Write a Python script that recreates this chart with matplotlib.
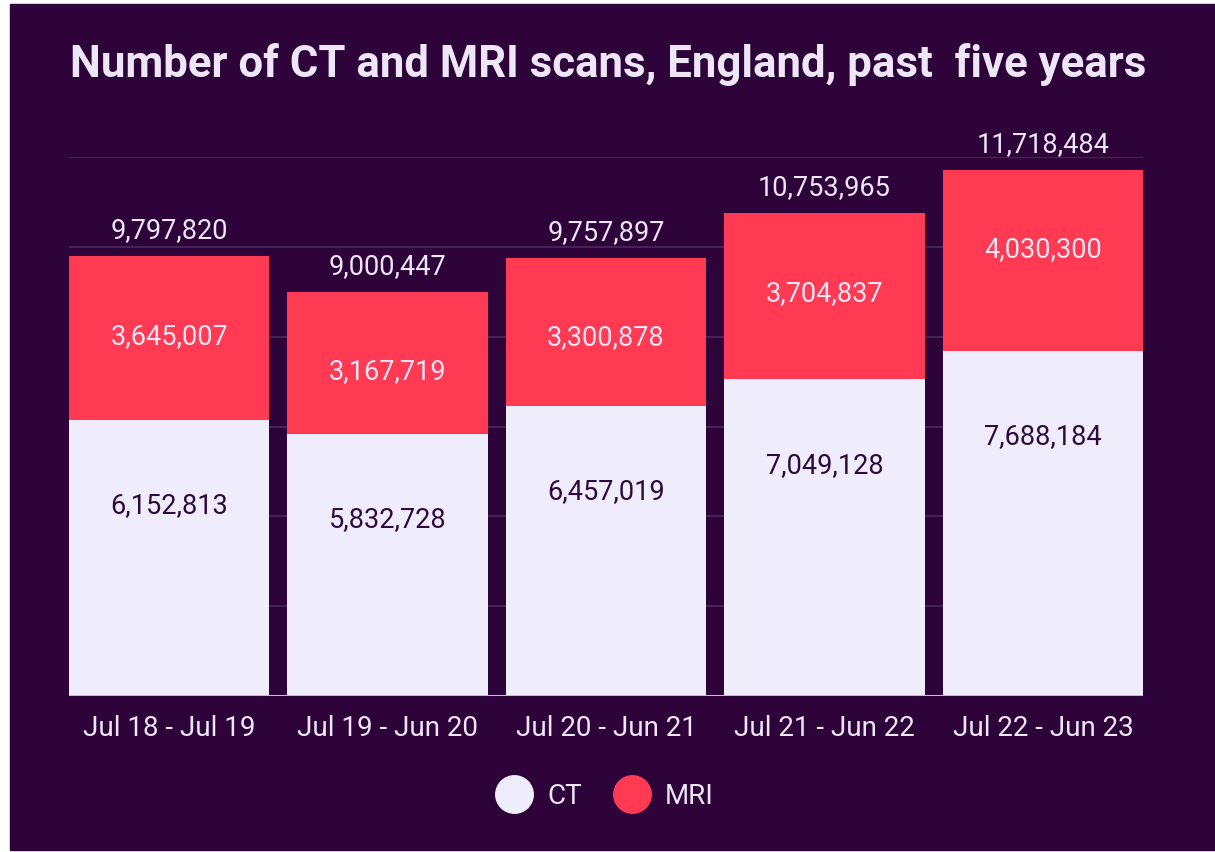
import matplotlib.pyplot as plt
from matplotlib.patches import Rectangle
from matplotlib.lines import Line2D

periods = ['Jul 18 - Jul 19', 'Jul 19 - Jun 20', 'Jul 20 - Jun 21', 'Jul 21 - Jun 22', 'Jul 22 - Jun 23']
ct = [6152813, 5832728, 6457019, 7049128, 7688184]
mri = [3645007, 3167719, 3300878, 3704837, 4030300]

bg = '#2e0339'
ct_col = '#efedfc'
mri_col = '#ff3a52'
txt = '#ece6f7'
dark = '#2e0a3c'

plt.rcParams['font.family'] = ['Roboto', 'DejaVu Sans']

fig = plt.figure(figsize=(12.15, 8.53), dpi=100, facecolor='white')
# dark panel (white strip left/top like the source screenshot)
fig.patches.append(Rectangle((10 / 1215, 0.002), 1, 1 - 5 / 853 - 0.002,
                             transform=fig.transFigure, color=bg, zorder=-5))

ax = fig.add_axes([69 / 1215, 1 - 697 / 853, (1143 - 69) / 1215, (697 - 158) / 853])
ax.set_zorder(2)
ax.set_facecolor('none')

x = range(len(periods))
w = 0.917
ax.bar(x, ct, w, color=ct_col, zorder=2)
ax.bar(x, mri, w, bottom=ct, color=mri_col, zorder=2)

ax.set_xlim(-w / 2, len(periods) - 1 + w / 2)
ax.set_ylim(0, 12e6)
ax.set_yticks(range(0, 12000001, 2000000))
ax.yaxis.grid(True, color='#4c2a5e', lw=1.2, zorder=0)
ax.set_axisbelow(True)
ax.tick_params(axis='y', left=False, labelleft=False)
ax.tick_params(axis='x', length=0, pad=13, labelsize=20, labelcolor=txt)
ax.set_xticks(list(x))
ax.set_xticklabels(periods)
for s in ax.spines.values():
    s.set_visible(False)
ax.axhline(0, color='#c9b8dc', lw=1.5, zorder=3)

for i in x:
    top_ct = ct[i]
    top_all = ct[i] + mri[i]
    ax.annotate(f'{ct[i]:,}', (i, top_ct), xytext=(0, -61), textcoords='offset points',
                ha='center', va='center', fontsize=19.5, color=dark, zorder=4)
    ax.annotate(f'{mri[i]:,}', (i, top_all), xytext=(0, -57), textcoords='offset points',
                ha='center', va='center', fontsize=19.5, color=txt, zorder=4)
    ax.annotate(f'{top_all:,}', (i, top_all), xytext=(0, 19), textcoords='offset points',
                ha='center', va='center', fontsize=19.5, color=txt, zorder=4,
                annotation_clip=False)

fig.text(608 / 1215, 1 - 65 / 853, 'Number of CT and MRI scans, England, past  five years',
         ha='center', va='center', fontsize=31.5, fontweight='bold', color=txt)

handles = [Line2D([], [], marker='o', ls='', markersize=27, color=ct_col, label='CT'),
           Line2D([], [], marker='o', ls='', markersize=27, color=mri_col, label='MRI')]
fig.legend(handles=handles, loc='center', bbox_to_anchor=(604 / 1215, 1 - 797 / 853), ncol=2,
           frameon=False, fontsize=20, labelcolor=txt, handletextpad=0.5, columnspacing=1.1,
           handlelength=1.4)

fig.savefig('out.png', dpi=100, facecolor=fig.get_facecolor())
